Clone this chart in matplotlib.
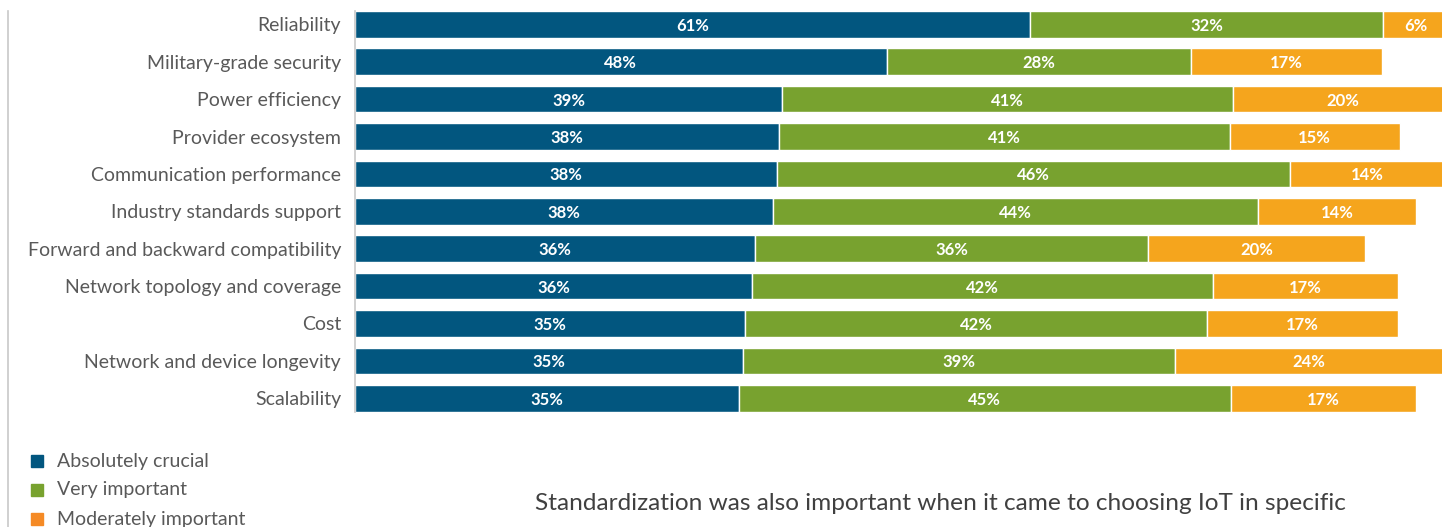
import matplotlib.pyplot as plt
from matplotlib.patches import Rectangle
import numpy as np

plt.rcParams['font.family'] = ['Lato', 'DejaVu Sans']

categories = ['Reliability', 'Military-grade security', 'Power efficiency',
              'Provider ecosystem', 'Communication performance',
              'Industry standards support', 'Forward and backward compatibility',
              'Network topology and coverage', 'Cost',
              'Network and device longevity', 'Scalability']
crucial = [61.2, 48.2, 38.7, 38.4, 38.3, 37.9, 36.3, 36.0, 35.4, 35.2, 34.8]
very = [32.0, 27.6, 40.9, 40.9, 46.5, 44.0, 35.6, 41.8, 41.8, 39.1, 44.6]
moderate = [6.0, 17.3, 20.0, 15.4, 14.0, 14.3, 19.7, 16.8, 17.4, 24.4, 16.8]
series_names = ['Absolutely crucial', 'Very important', 'Moderately important']

bar_colors = ['#02567f', '#78a22f', '#f5a51d']
legend_colors = ['#02567f', '#78a22f', '#f58a25']

W, H = 1442, 527
fig = plt.figure(figsize=(W / 100, H / 100), dpi=100)
ax = fig.add_axes([355 / W, 1 - 411.6 / H, 1 - 355 / W, (411.6 - 11) / H])

y = np.arange(len(categories))
left = np.zeros(len(categories))
for vals, col in zip([crucial, very, moderate], bar_colors):
    vals = np.array(vals)
    ax.barh(y, vals, left=left, height=0.714, color=col,
            edgecolor='white', linewidth=1)
    for yi, l, v in zip(y, left, vals):
        xc = l + v / 2
        if xc > 98.2:
            xc = l + (98.55 - l) / 2
        ax.text(xc, yi + 0.04, f'{round(v)}%', ha='center', va='center',
                color='white', fontsize=12, fontweight='bold')
    left += vals

ax.set_xlim(0, (W - 355) / 11.03)
ax.set_ylim(10.357, -0.357)
ax.set_yticks(y)
ax.set_yticklabels(categories, fontsize=14, color='#595959')
ax.tick_params(axis='y', length=0, pad=10)
ax.set_xticks([])
for s in ['top', 'right', 'bottom']:
    ax.spines[s].set_visible(False)
ax.spines['left'].set_color('#c8c8c8')
ax.spines['left'].set_linewidth(1.2)

# outer left border line
fig.add_artist(plt.Line2D([7.5 / W, 7.5 / W], [0, 1 - 11 / H],
                          color='#c8c8c8', linewidth=1.2))

# legend
for i, (name, col) in enumerate(zip(series_names, legend_colors)):
    yc = 461 + i * 29
    fig.add_artist(Rectangle((31 / W, 1 - (yc + 6) / H), 12 / W, 12 / H,
                             color=col, transform=fig.transFigure))
    fig.text(57 / W, 1 - yc / H, name, fontsize=14, color='#595959',
             va='center', ha='left')

fig.text(535 / W, 1 - 503 / H,
         'Standardization was also important when it came to choosing IoT in specific',
         fontsize=17.6, color='#404040', va='center', ha='left')

fig.savefig('out.png', dpi=100)
